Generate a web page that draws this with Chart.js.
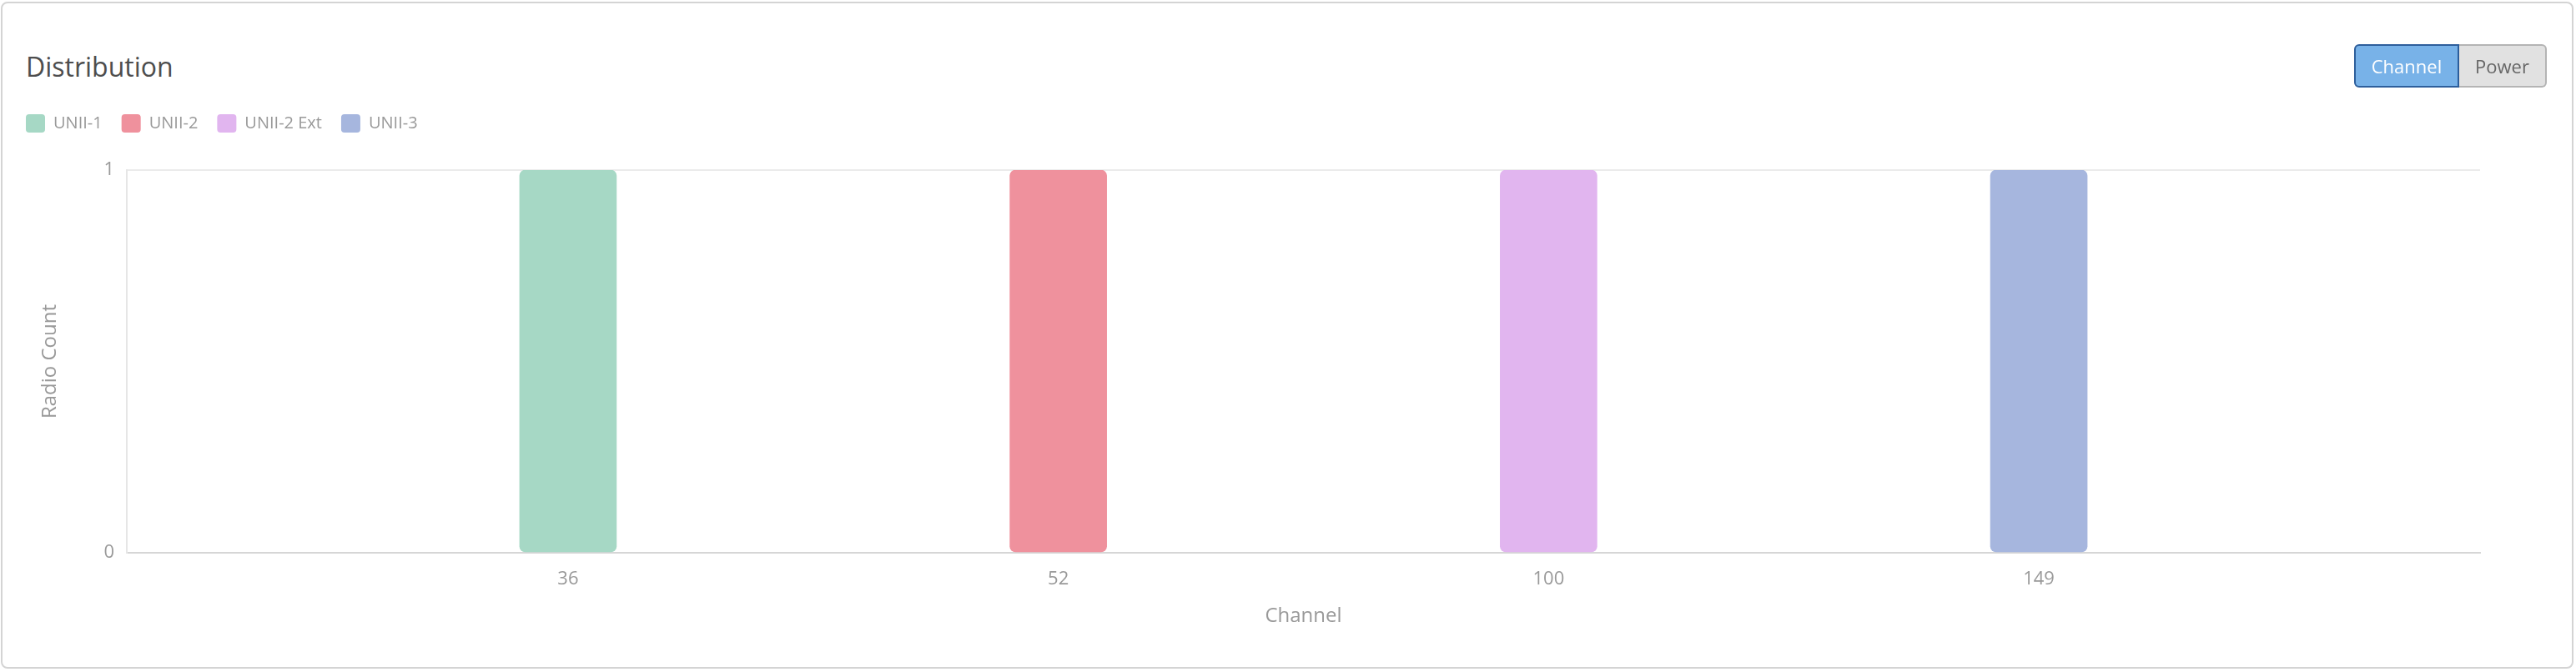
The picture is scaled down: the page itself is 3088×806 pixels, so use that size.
<!DOCTYPE html>
<html>
<head>
<meta charset="utf-8">
<script src="https://cdn.jsdelivr.net/npm/chart.js@4.4.0/dist/chart.umd.min.js"></script>
<style>
  body { margin: 0; background: #fff; font-family: 'Open Sans', sans-serif; }
  #card {
    position: absolute; left: 1px; top: 2px; width: 3080px; height: 796px;
    border: 2px solid #d4d4d4; border-radius: 8px; background: #fff;
  }
  #title {
    position: absolute; left: 31px; top: 60px; font-size: 32px; line-height: 40px;
    color: #4d4d4d;
  }
  #chart { position: absolute; left: 0; top: 0; }
  .btns { position: absolute; left: 2822px; top: 53px; display: flex; }
  .btns div {
    height: 48px; line-height: 48px; font-size: 22px; text-align: center;
    box-sizing: content-box;
  }
  #btnChannel {
    width: 122px; background: #78b2e8; color: #fff; border: 2px solid #2d5e9b;
    border-radius: 6px 0 0 6px;
  }
  #btnPower {
    width: 103px; background: #e1e1e1; color: #666; border: 2px solid #b4b4b4;
    border-left: none; border-radius: 0 6px 6px 0;
  }
</style>
</head>
<body>
<div id="card"></div>
<div id="title">Distribution</div>
<canvas id="chart" width="3088" height="806"></canvas>
<div class="btns"><div id="btnChannel">Channel</div><div id="btnPower">Power</div></div>

<script>
// datos
const channels = ['36', '52', '100', '149'];
const bands = ['UNII-1', 'UNII-2', 'UNII-2 Ext', 'UNII-3'];
const radioCounts = [1, 1, 1, 1];
const yTicks = [0, 1];
const bandColors = ['#a6d8c5', '#ef919d', '#e1b5ef', '#a6b6de'];

Chart.defaults.font.family = "'Open Sans', sans-serif";
Chart.defaults.color = '#999';

// un dataset por banda, cada uno con su canal
const datasets = bands.map((b, i) => ({
  label: b,
  data: [{ x: i, y: radioCounts[i] }],
  backgroundColor: bandColors[i],
  borderWidth: 0,
  borderRadius: 7,
  borderSkipped: false,
  grouped: false,
  barThickness: 116
}));

// espacio extra debajo de la leyenda
const legendSpace = {
  id: 'legendSpace',
  beforeInit(chart) {
    const fit = chart.legend.fit;
    chart.legend.fit = function () {
      fit.bind(chart.legend)();
      this.height += 35;
    };
  }
};

const ctx = document.getElementById('chart');
new Chart(ctx, {
  type: 'bar',
  data: { datasets: datasets },
  plugins: [legendSpace],
  options: {
    responsive: false,
    animation: false,
    layout: { padding: { left: 8, right: 115, top: 114, bottom: 30 } },
    plugins: {
      tooltip: { enabled: false },
      legend: {
        align: 'start',
        labels: {
          boxWidth: 23,
          boxHeight: 22,
          padding: 23,
          useBorderRadius: true,
          borderRadius: 4,
          color: '#999',
          font: { size: 20 }
        }
      }
    },
    scales: {
      x: {
        type: 'linear',
        min: -0.9,
        max: 3.9,
        offset: false,
        afterBuildTicks: (s) => { s.ticks = channels.map((c, i) => ({ value: i })); },
        afterFit: (s) => { s.height = 113; },
        ticks: {
          padding: 19,
          font: { size: 22 },
          color: '#999',
          callback: (v) => channels[v]
        },
        grid: { display: false, drawTicks: false },
        border: { display: true, color: '#d6d6d6', width: 2 },
        title: {
          display: true,
          text: 'Channel',
          color: '#999',
          font: { size: 24 },
          padding: { top: 0, bottom: 22 }
        }
      },
      y: {
        min: 0,
        max: 1,
        afterBuildTicks: (s) => { s.ticks = yTicks.map(v => ({ value: v })); },
        afterFit: (s) => { s.width = 144; },
        ticks: { padding: 15, font: { size: 22 }, color: '#999' },
        grid: {
          drawTicks: false,
          color: (c) => c.tick && c.tick.value === 0 ? '#d6d6d6' : '#ebebeb',
          lineWidth: 2
        },
        border: { display: true, color: '#e6e6e6', width: 2 },
        title: {
          display: true,
          text: 'Radio Count',
          color: '#999',
          font: { size: 24 },
          padding: { top: 38, bottom: 0 }
        }
      }
    }
  }
});
</script>
</body>
</html>
